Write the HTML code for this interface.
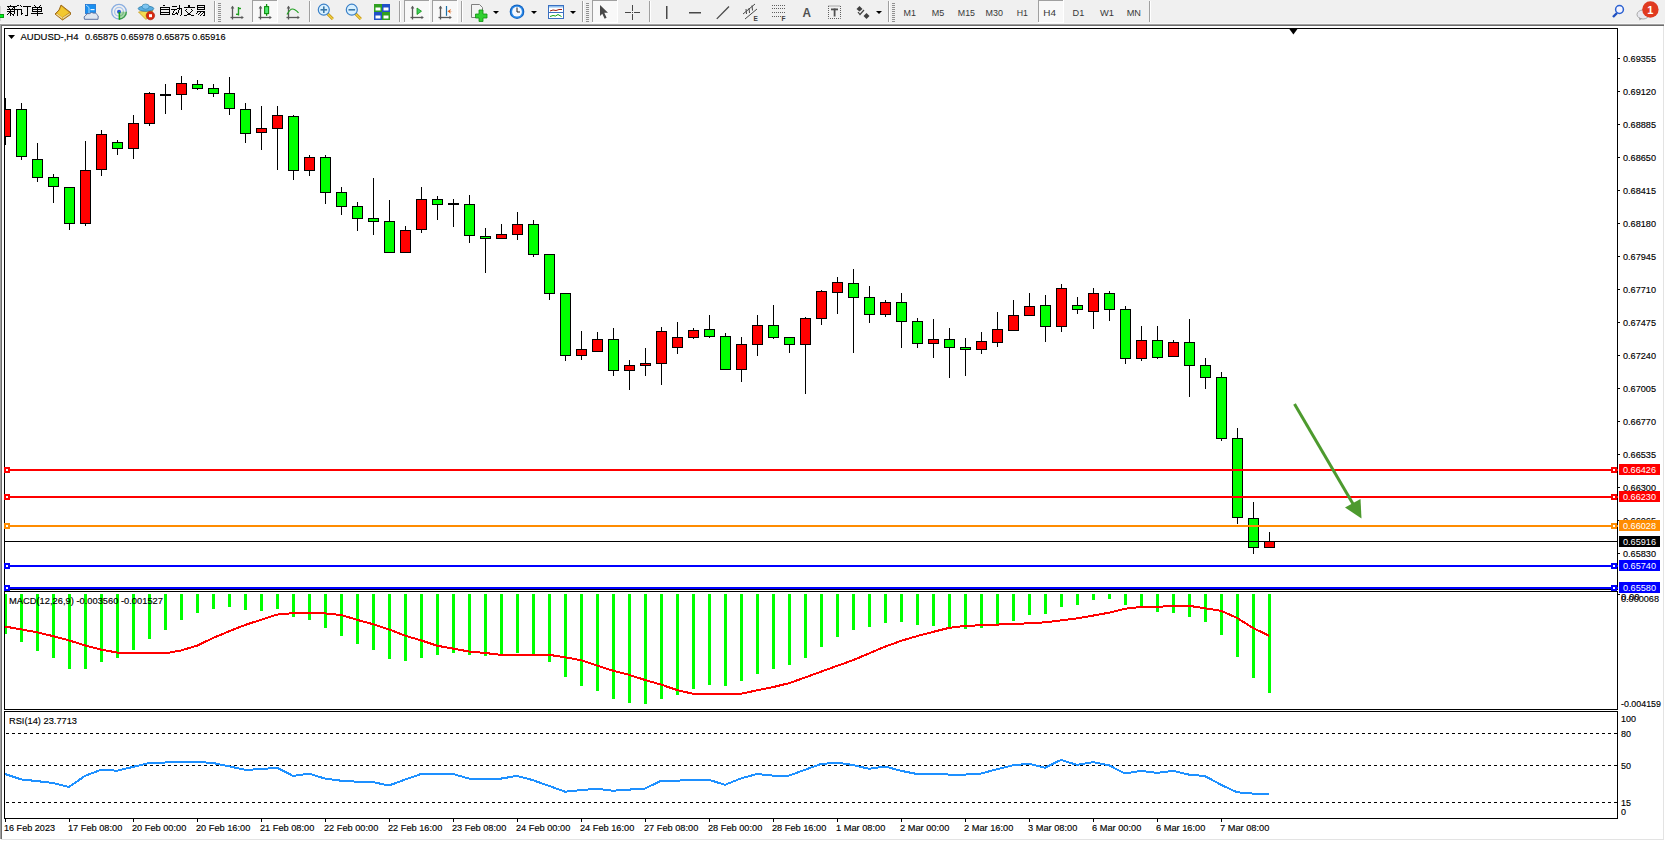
<!DOCTYPE html>
<html><head><meta charset="utf-8"><style>
html,body{margin:0;padding:0;background:#fff;overflow:hidden;}
svg{display:block;}
text.t{stroke-width:0.3px;}
</style></head><body>
<svg width="1665" height="841" viewBox="0 0 1665 841">
<rect x="0" y="0" width="1665" height="841" fill="#ffffff"/>
<rect x="0" y="0" width="1665" height="23" fill="#f0f0f0"/>
<rect x="0" y="23" width="1665" height="1" fill="#f7f7f7"/>
<rect x="0" y="24" width="1664" height="1" fill="#a0a0a0"/>
<rect x="0" y="25" width="1664" height="1" fill="#6d6d6d"/>
<rect x="0" y="24" width="1" height="815" fill="#a0a0a0"/>
<rect x="1" y="25" width="1" height="814" fill="#6d6d6d"/>
<rect x="1663" y="26" width="1" height="814" fill="#e3e3e3"/>
<rect x="1" y="839" width="1663" height="1" fill="#e3e3e3"/>
<rect x="4" y="28" width="1614" height="1" fill="#000"/>
<rect x="4" y="28" width="1" height="562" fill="#000"/>
<rect x="1617" y="28" width="1" height="562" fill="#000"/>
<rect x="4" y="589" width="1614" height="1" fill="#000"/>
<rect x="4" y="591" width="1614" height="1" fill="#000"/>
<rect x="4" y="591" width="1" height="119" fill="#000"/>
<rect x="1617" y="591" width="1" height="119" fill="#000"/>
<rect x="4" y="709" width="1614" height="1" fill="#000"/>
<rect x="4" y="711" width="1614" height="1" fill="#000"/>
<rect x="4" y="711" width="1" height="108" fill="#000"/>
<rect x="1617" y="711" width="1" height="108" fill="#000"/>
<rect x="4" y="818" width="1614" height="1" fill="#000"/>
<polygon points="1288.6,28 1298.2,28 1293.4,34.6" fill="#000"/>
<defs><clipPath id="cm"><rect x="5" y="29" width="1612" height="560"/></clipPath><clipPath id="cmacd"><rect x="5" y="592" width="1612" height="117"/></clipPath><clipPath id="crsi"><rect x="5" y="712" width="1612" height="106"/></clipPath></defs>
<g clip-path="url(#cm)" shape-rendering="crispEdges">
<rect x="5" y="98" width="1" height="47" fill="#000"/>
<rect x="0" y="109" width="11" height="28" fill="#000"/>
<rect x="1" y="110" width="9" height="26" fill="#ff0000"/>
<rect x="21" y="103" width="1" height="57" fill="#000"/>
<rect x="16" y="109" width="11" height="48" fill="#000"/>
<rect x="17" y="110" width="9" height="46" fill="#00ff00"/>
<rect x="37" y="143" width="1" height="39" fill="#000"/>
<rect x="32" y="159" width="11" height="19" fill="#000"/>
<rect x="33" y="160" width="9" height="17" fill="#00ff00"/>
<rect x="53" y="174" width="1" height="29" fill="#000"/>
<rect x="48" y="177" width="11" height="10" fill="#000"/>
<rect x="49" y="178" width="9" height="8" fill="#00ff00"/>
<rect x="69" y="187" width="1" height="43" fill="#000"/>
<rect x="64" y="187" width="11" height="37" fill="#000"/>
<rect x="65" y="188" width="9" height="35" fill="#00ff00"/>
<rect x="85" y="141" width="1" height="85" fill="#000"/>
<rect x="80" y="170" width="11" height="54" fill="#000"/>
<rect x="81" y="171" width="9" height="52" fill="#ff0000"/>
<rect x="101" y="130" width="1" height="46" fill="#000"/>
<rect x="96" y="134" width="11" height="36" fill="#000"/>
<rect x="97" y="135" width="9" height="34" fill="#ff0000"/>
<rect x="117" y="140" width="1" height="15" fill="#000"/>
<rect x="112" y="142" width="11" height="7" fill="#000"/>
<rect x="113" y="143" width="9" height="5" fill="#00ff00"/>
<rect x="133" y="115" width="1" height="44" fill="#000"/>
<rect x="128" y="123" width="11" height="26" fill="#000"/>
<rect x="129" y="124" width="9" height="24" fill="#ff0000"/>
<rect x="149" y="92" width="1" height="34" fill="#000"/>
<rect x="144" y="93" width="11" height="31" fill="#000"/>
<rect x="145" y="94" width="9" height="29" fill="#ff0000"/>
<rect x="165" y="84" width="1" height="30" fill="#000"/>
<rect x="160" y="94" width="11" height="2" fill="#000"/>
<rect x="181" y="76" width="1" height="34" fill="#000"/>
<rect x="176" y="83" width="11" height="12" fill="#000"/>
<rect x="177" y="84" width="9" height="10" fill="#ff0000"/>
<rect x="197" y="80" width="1" height="10" fill="#000"/>
<rect x="192" y="84" width="11" height="5" fill="#000"/>
<rect x="193" y="85" width="9" height="3" fill="#00ff00"/>
<rect x="213" y="84" width="1" height="13" fill="#000"/>
<rect x="208" y="88" width="11" height="6" fill="#000"/>
<rect x="209" y="89" width="9" height="4" fill="#00ff00"/>
<rect x="229" y="77" width="1" height="38" fill="#000"/>
<rect x="224" y="93" width="11" height="16" fill="#000"/>
<rect x="225" y="94" width="9" height="14" fill="#00ff00"/>
<rect x="245" y="103" width="1" height="40" fill="#000"/>
<rect x="240" y="109" width="11" height="25" fill="#000"/>
<rect x="241" y="110" width="9" height="23" fill="#00ff00"/>
<rect x="261" y="106" width="1" height="44" fill="#000"/>
<rect x="256" y="128" width="11" height="5" fill="#000"/>
<rect x="257" y="129" width="9" height="3" fill="#ff0000"/>
<rect x="277" y="106" width="1" height="64" fill="#000"/>
<rect x="272" y="115" width="11" height="14" fill="#000"/>
<rect x="273" y="116" width="9" height="12" fill="#ff0000"/>
<rect x="293" y="115" width="1" height="65" fill="#000"/>
<rect x="288" y="116" width="11" height="55" fill="#000"/>
<rect x="289" y="117" width="9" height="53" fill="#00ff00"/>
<rect x="309" y="155" width="1" height="21" fill="#000"/>
<rect x="304" y="157" width="11" height="14" fill="#000"/>
<rect x="305" y="158" width="9" height="12" fill="#ff0000"/>
<rect x="325" y="155" width="1" height="49" fill="#000"/>
<rect x="320" y="157" width="11" height="36" fill="#000"/>
<rect x="321" y="158" width="9" height="34" fill="#00ff00"/>
<rect x="341" y="187" width="1" height="28" fill="#000"/>
<rect x="336" y="192" width="11" height="15" fill="#000"/>
<rect x="337" y="193" width="9" height="13" fill="#00ff00"/>
<rect x="357" y="202" width="1" height="29" fill="#000"/>
<rect x="352" y="206" width="11" height="13" fill="#000"/>
<rect x="353" y="207" width="9" height="11" fill="#00ff00"/>
<rect x="373" y="178" width="1" height="57" fill="#000"/>
<rect x="368" y="218" width="11" height="4" fill="#000"/>
<rect x="369" y="219" width="9" height="2" fill="#00ff00"/>
<rect x="389" y="200" width="1" height="53" fill="#000"/>
<rect x="384" y="221" width="11" height="32" fill="#000"/>
<rect x="385" y="222" width="9" height="30" fill="#00ff00"/>
<rect x="405" y="226" width="1" height="27" fill="#000"/>
<rect x="400" y="230" width="11" height="23" fill="#000"/>
<rect x="401" y="231" width="9" height="21" fill="#ff0000"/>
<rect x="421" y="187" width="1" height="46" fill="#000"/>
<rect x="416" y="199" width="11" height="31" fill="#000"/>
<rect x="417" y="200" width="9" height="29" fill="#ff0000"/>
<rect x="437" y="196" width="1" height="24" fill="#000"/>
<rect x="432" y="199" width="11" height="6" fill="#000"/>
<rect x="433" y="200" width="9" height="4" fill="#00ff00"/>
<rect x="453" y="199" width="1" height="28" fill="#000"/>
<rect x="448" y="203" width="11" height="2" fill="#000"/>
<rect x="469" y="195" width="1" height="48" fill="#000"/>
<rect x="464" y="204" width="11" height="32" fill="#000"/>
<rect x="465" y="205" width="9" height="30" fill="#00ff00"/>
<rect x="485" y="228" width="1" height="45" fill="#000"/>
<rect x="480" y="236" width="11" height="3" fill="#000"/>
<rect x="481" y="237" width="9" height="1" fill="#00ff00"/>
<rect x="501" y="224" width="1" height="15" fill="#000"/>
<rect x="496" y="234" width="11" height="5" fill="#000"/>
<rect x="497" y="235" width="9" height="3" fill="#ff0000"/>
<rect x="517" y="212" width="1" height="28" fill="#000"/>
<rect x="512" y="224" width="11" height="11" fill="#000"/>
<rect x="513" y="225" width="9" height="9" fill="#ff0000"/>
<rect x="533" y="220" width="1" height="37" fill="#000"/>
<rect x="528" y="224" width="11" height="31" fill="#000"/>
<rect x="529" y="225" width="9" height="29" fill="#00ff00"/>
<rect x="549" y="254" width="1" height="46" fill="#000"/>
<rect x="544" y="254" width="11" height="40" fill="#000"/>
<rect x="545" y="255" width="9" height="38" fill="#00ff00"/>
<rect x="565" y="293" width="1" height="68" fill="#000"/>
<rect x="560" y="293" width="11" height="63" fill="#000"/>
<rect x="561" y="294" width="9" height="61" fill="#00ff00"/>
<rect x="581" y="331" width="1" height="29" fill="#000"/>
<rect x="576" y="349" width="11" height="7" fill="#000"/>
<rect x="577" y="350" width="9" height="5" fill="#ff0000"/>
<rect x="597" y="332" width="1" height="20" fill="#000"/>
<rect x="592" y="339" width="11" height="13" fill="#000"/>
<rect x="593" y="340" width="9" height="11" fill="#ff0000"/>
<rect x="613" y="328" width="1" height="48" fill="#000"/>
<rect x="608" y="339" width="11" height="32" fill="#000"/>
<rect x="609" y="340" width="9" height="30" fill="#00ff00"/>
<rect x="629" y="360" width="1" height="30" fill="#000"/>
<rect x="624" y="365" width="11" height="6" fill="#000"/>
<rect x="625" y="366" width="9" height="4" fill="#ff0000"/>
<rect x="645" y="348" width="1" height="28" fill="#000"/>
<rect x="640" y="363" width="11" height="3" fill="#000"/>
<rect x="641" y="364" width="9" height="1" fill="#ff0000"/>
<rect x="661" y="327" width="1" height="58" fill="#000"/>
<rect x="656" y="331" width="11" height="33" fill="#000"/>
<rect x="657" y="332" width="9" height="31" fill="#ff0000"/>
<rect x="677" y="322" width="1" height="32" fill="#000"/>
<rect x="672" y="337" width="11" height="11" fill="#000"/>
<rect x="673" y="338" width="9" height="9" fill="#ff0000"/>
<rect x="693" y="328" width="1" height="11" fill="#000"/>
<rect x="688" y="330" width="11" height="8" fill="#000"/>
<rect x="689" y="331" width="9" height="6" fill="#ff0000"/>
<rect x="709" y="315" width="1" height="23" fill="#000"/>
<rect x="704" y="329" width="11" height="8" fill="#000"/>
<rect x="705" y="330" width="9" height="6" fill="#00ff00"/>
<rect x="725" y="333" width="1" height="37" fill="#000"/>
<rect x="720" y="336" width="11" height="34" fill="#000"/>
<rect x="721" y="337" width="9" height="32" fill="#00ff00"/>
<rect x="741" y="337" width="1" height="45" fill="#000"/>
<rect x="736" y="344" width="11" height="26" fill="#000"/>
<rect x="737" y="345" width="9" height="24" fill="#ff0000"/>
<rect x="757" y="315" width="1" height="41" fill="#000"/>
<rect x="752" y="325" width="11" height="20" fill="#000"/>
<rect x="753" y="326" width="9" height="18" fill="#ff0000"/>
<rect x="773" y="305" width="1" height="34" fill="#000"/>
<rect x="768" y="325" width="11" height="13" fill="#000"/>
<rect x="769" y="326" width="9" height="11" fill="#00ff00"/>
<rect x="789" y="337" width="1" height="16" fill="#000"/>
<rect x="784" y="337" width="11" height="8" fill="#000"/>
<rect x="785" y="338" width="9" height="6" fill="#00ff00"/>
<rect x="805" y="317" width="1" height="77" fill="#000"/>
<rect x="800" y="318" width="11" height="27" fill="#000"/>
<rect x="801" y="319" width="9" height="25" fill="#ff0000"/>
<rect x="821" y="290" width="1" height="35" fill="#000"/>
<rect x="816" y="291" width="11" height="28" fill="#000"/>
<rect x="817" y="292" width="9" height="26" fill="#ff0000"/>
<rect x="837" y="277" width="1" height="37" fill="#000"/>
<rect x="832" y="282" width="11" height="11" fill="#000"/>
<rect x="833" y="283" width="9" height="9" fill="#ff0000"/>
<rect x="853" y="269" width="1" height="84" fill="#000"/>
<rect x="848" y="283" width="11" height="15" fill="#000"/>
<rect x="849" y="284" width="9" height="13" fill="#00ff00"/>
<rect x="869" y="286" width="1" height="37" fill="#000"/>
<rect x="864" y="297" width="11" height="18" fill="#000"/>
<rect x="865" y="298" width="9" height="16" fill="#00ff00"/>
<rect x="885" y="300" width="1" height="17" fill="#000"/>
<rect x="880" y="302" width="11" height="13" fill="#000"/>
<rect x="881" y="303" width="9" height="11" fill="#ff0000"/>
<rect x="901" y="293" width="1" height="55" fill="#000"/>
<rect x="896" y="302" width="11" height="20" fill="#000"/>
<rect x="897" y="303" width="9" height="18" fill="#00ff00"/>
<rect x="917" y="318" width="1" height="30" fill="#000"/>
<rect x="912" y="321" width="11" height="23" fill="#000"/>
<rect x="913" y="322" width="9" height="21" fill="#00ff00"/>
<rect x="933" y="319" width="1" height="39" fill="#000"/>
<rect x="928" y="339" width="11" height="5" fill="#000"/>
<rect x="929" y="340" width="9" height="3" fill="#ff0000"/>
<rect x="949" y="328" width="1" height="50" fill="#000"/>
<rect x="944" y="339" width="11" height="9" fill="#000"/>
<rect x="945" y="340" width="9" height="7" fill="#00ff00"/>
<rect x="965" y="338" width="1" height="38" fill="#000"/>
<rect x="960" y="347" width="11" height="3" fill="#000"/>
<rect x="961" y="348" width="9" height="1" fill="#00ff00"/>
<rect x="981" y="332" width="1" height="22" fill="#000"/>
<rect x="976" y="341" width="11" height="9" fill="#000"/>
<rect x="977" y="342" width="9" height="7" fill="#ff0000"/>
<rect x="997" y="312" width="1" height="35" fill="#000"/>
<rect x="992" y="329" width="11" height="14" fill="#000"/>
<rect x="993" y="330" width="9" height="12" fill="#ff0000"/>
<rect x="1013" y="300" width="1" height="31" fill="#000"/>
<rect x="1008" y="315" width="11" height="16" fill="#000"/>
<rect x="1009" y="316" width="9" height="14" fill="#ff0000"/>
<rect x="1029" y="293" width="1" height="23" fill="#000"/>
<rect x="1024" y="306" width="11" height="10" fill="#000"/>
<rect x="1025" y="307" width="9" height="8" fill="#ff0000"/>
<rect x="1045" y="295" width="1" height="47" fill="#000"/>
<rect x="1040" y="305" width="11" height="22" fill="#000"/>
<rect x="1041" y="306" width="9" height="20" fill="#00ff00"/>
<rect x="1061" y="284" width="1" height="48" fill="#000"/>
<rect x="1056" y="288" width="11" height="39" fill="#000"/>
<rect x="1057" y="289" width="9" height="37" fill="#ff0000"/>
<rect x="1077" y="297" width="1" height="17" fill="#000"/>
<rect x="1072" y="305" width="11" height="5" fill="#000"/>
<rect x="1073" y="306" width="9" height="3" fill="#00ff00"/>
<rect x="1093" y="288" width="1" height="41" fill="#000"/>
<rect x="1088" y="293" width="11" height="19" fill="#000"/>
<rect x="1089" y="294" width="9" height="17" fill="#ff0000"/>
<rect x="1109" y="291" width="1" height="30" fill="#000"/>
<rect x="1104" y="293" width="11" height="17" fill="#000"/>
<rect x="1105" y="294" width="9" height="15" fill="#00ff00"/>
<rect x="1125" y="306" width="1" height="58" fill="#000"/>
<rect x="1120" y="309" width="11" height="50" fill="#000"/>
<rect x="1121" y="310" width="9" height="48" fill="#00ff00"/>
<rect x="1141" y="326" width="1" height="35" fill="#000"/>
<rect x="1136" y="340" width="11" height="19" fill="#000"/>
<rect x="1137" y="341" width="9" height="17" fill="#ff0000"/>
<rect x="1157" y="326" width="1" height="33" fill="#000"/>
<rect x="1152" y="340" width="11" height="18" fill="#000"/>
<rect x="1153" y="341" width="9" height="16" fill="#00ff00"/>
<rect x="1173" y="340" width="1" height="17" fill="#000"/>
<rect x="1168" y="342" width="11" height="15" fill="#000"/>
<rect x="1169" y="343" width="9" height="13" fill="#ff0000"/>
<rect x="1189" y="319" width="1" height="78" fill="#000"/>
<rect x="1184" y="342" width="11" height="24" fill="#000"/>
<rect x="1185" y="343" width="9" height="22" fill="#00ff00"/>
<rect x="1205" y="358" width="1" height="31" fill="#000"/>
<rect x="1200" y="365" width="11" height="13" fill="#000"/>
<rect x="1201" y="366" width="9" height="11" fill="#00ff00"/>
<rect x="1221" y="372" width="1" height="69" fill="#000"/>
<rect x="1216" y="377" width="11" height="62" fill="#000"/>
<rect x="1217" y="378" width="9" height="60" fill="#00ff00"/>
<rect x="1237" y="428" width="1" height="96" fill="#000"/>
<rect x="1232" y="438" width="11" height="80" fill="#000"/>
<rect x="1233" y="439" width="9" height="78" fill="#00ff00"/>
<rect x="1253" y="502" width="1" height="52" fill="#000"/>
<rect x="1248" y="518" width="11" height="30" fill="#000"/>
<rect x="1249" y="519" width="9" height="28" fill="#00ff00"/>
<rect x="1269" y="532" width="1" height="16" fill="#000"/>
<rect x="1264" y="541" width="11" height="7" fill="#000"/>
<rect x="1265" y="542" width="9" height="5" fill="#ff0000"/>
</g>
<g shape-rendering="crispEdges">
<rect x="5" y="469" width="1613" height="2" fill="#ff0000"/>
<rect x="4" y="467" width="6" height="6" fill="#ff0000"/>
<rect x="6" y="469" width="2" height="2" fill="#fff"/>
<rect x="1611" y="467" width="6" height="6" fill="#ff0000"/>
<rect x="1613" y="469" width="2" height="2" fill="#fff"/>
<rect x="5" y="496" width="1613" height="2" fill="#ff0000"/>
<rect x="4" y="494" width="6" height="6" fill="#ff0000"/>
<rect x="6" y="496" width="2" height="2" fill="#fff"/>
<rect x="1611" y="494" width="6" height="6" fill="#ff0000"/>
<rect x="1613" y="496" width="2" height="2" fill="#fff"/>
<rect x="5" y="525" width="1613" height="2" fill="#ff8c00"/>
<rect x="4" y="523" width="6" height="6" fill="#ff8c00"/>
<rect x="6" y="525" width="2" height="2" fill="#fff"/>
<rect x="1611" y="523" width="6" height="6" fill="#ff8c00"/>
<rect x="1613" y="525" width="2" height="2" fill="#fff"/>
<rect x="5" y="541" width="1613" height="1" fill="#000"/>
<rect x="5" y="565" width="1613" height="2" fill="#0000ff"/>
<rect x="4" y="563" width="6" height="6" fill="#0000ff"/>
<rect x="6" y="565" width="2" height="2" fill="#fff"/>
<rect x="1611" y="563" width="6" height="6" fill="#0000ff"/>
<rect x="1613" y="565" width="2" height="2" fill="#fff"/>
<rect x="5" y="587" width="1613" height="2" fill="#0000ff"/>
<rect x="4" y="585" width="6" height="6" fill="#0000ff"/>
<rect x="6" y="587" width="2" height="2" fill="#fff"/>
<rect x="1611" y="585" width="6" height="6" fill="#0000ff"/>
<rect x="1613" y="587" width="2" height="2" fill="#fff"/>
</g>
<line x1="1294.5" y1="404" x2="1356" y2="509" stroke="#4d9a2e" stroke-width="3"/>
<polygon points="1361.5,518.5 1345,507.5 1360.5,499" fill="#4d9a2e"/>
<rect x="1618" y="58" width="2" height="1" fill="#000" shape-rendering="crispEdges"/>
<text x="1623" y="62" font-size="9.8" textLength="33" lengthAdjust="spacingAndGlyphs" font-family="Liberation Sans, sans-serif" fill="#000" stroke="#000" stroke-width="0.15">0.69355</text>
<rect x="1618" y="91" width="2" height="1" fill="#000" shape-rendering="crispEdges"/>
<text x="1623" y="95" font-size="9.8" textLength="33" lengthAdjust="spacingAndGlyphs" font-family="Liberation Sans, sans-serif" fill="#000" stroke="#000" stroke-width="0.15">0.69120</text>
<rect x="1618" y="124" width="2" height="1" fill="#000" shape-rendering="crispEdges"/>
<text x="1623" y="128" font-size="9.8" textLength="33" lengthAdjust="spacingAndGlyphs" font-family="Liberation Sans, sans-serif" fill="#000" stroke="#000" stroke-width="0.15">0.68885</text>
<rect x="1618" y="157" width="2" height="1" fill="#000" shape-rendering="crispEdges"/>
<text x="1623" y="161" font-size="9.8" textLength="33" lengthAdjust="spacingAndGlyphs" font-family="Liberation Sans, sans-serif" fill="#000" stroke="#000" stroke-width="0.15">0.68650</text>
<rect x="1618" y="190" width="2" height="1" fill="#000" shape-rendering="crispEdges"/>
<text x="1623" y="194" font-size="9.8" textLength="33" lengthAdjust="spacingAndGlyphs" font-family="Liberation Sans, sans-serif" fill="#000" stroke="#000" stroke-width="0.15">0.68415</text>
<rect x="1618" y="223" width="2" height="1" fill="#000" shape-rendering="crispEdges"/>
<text x="1623" y="227" font-size="9.8" textLength="33" lengthAdjust="spacingAndGlyphs" font-family="Liberation Sans, sans-serif" fill="#000" stroke="#000" stroke-width="0.15">0.68180</text>
<rect x="1618" y="256" width="2" height="1" fill="#000" shape-rendering="crispEdges"/>
<text x="1623" y="260" font-size="9.8" textLength="33" lengthAdjust="spacingAndGlyphs" font-family="Liberation Sans, sans-serif" fill="#000" stroke="#000" stroke-width="0.15">0.67945</text>
<rect x="1618" y="289" width="2" height="1" fill="#000" shape-rendering="crispEdges"/>
<text x="1623" y="293" font-size="9.8" textLength="33" lengthAdjust="spacingAndGlyphs" font-family="Liberation Sans, sans-serif" fill="#000" stroke="#000" stroke-width="0.15">0.67710</text>
<rect x="1618" y="322" width="2" height="1" fill="#000" shape-rendering="crispEdges"/>
<text x="1623" y="326" font-size="9.8" textLength="33" lengthAdjust="spacingAndGlyphs" font-family="Liberation Sans, sans-serif" fill="#000" stroke="#000" stroke-width="0.15">0.67475</text>
<rect x="1618" y="355" width="2" height="1" fill="#000" shape-rendering="crispEdges"/>
<text x="1623" y="359" font-size="9.8" textLength="33" lengthAdjust="spacingAndGlyphs" font-family="Liberation Sans, sans-serif" fill="#000" stroke="#000" stroke-width="0.15">0.67240</text>
<rect x="1618" y="388" width="2" height="1" fill="#000" shape-rendering="crispEdges"/>
<text x="1623" y="392" font-size="9.8" textLength="33" lengthAdjust="spacingAndGlyphs" font-family="Liberation Sans, sans-serif" fill="#000" stroke="#000" stroke-width="0.15">0.67005</text>
<rect x="1618" y="421" width="2" height="1" fill="#000" shape-rendering="crispEdges"/>
<text x="1623" y="425" font-size="9.8" textLength="33" lengthAdjust="spacingAndGlyphs" font-family="Liberation Sans, sans-serif" fill="#000" stroke="#000" stroke-width="0.15">0.66770</text>
<rect x="1618" y="454" width="2" height="1" fill="#000" shape-rendering="crispEdges"/>
<text x="1623" y="458" font-size="9.8" textLength="33" lengthAdjust="spacingAndGlyphs" font-family="Liberation Sans, sans-serif" fill="#000" stroke="#000" stroke-width="0.15">0.66535</text>
<rect x="1618" y="487" width="2" height="1" fill="#000" shape-rendering="crispEdges"/>
<text x="1623" y="491" font-size="9.8" textLength="33" lengthAdjust="spacingAndGlyphs" font-family="Liberation Sans, sans-serif" fill="#000" stroke="#000" stroke-width="0.15">0.66300</text>
<rect x="1618" y="520" width="2" height="1" fill="#000" shape-rendering="crispEdges"/>
<text x="1623" y="524" font-size="9.8" textLength="33" lengthAdjust="spacingAndGlyphs" font-family="Liberation Sans, sans-serif" fill="#000" stroke="#000" stroke-width="0.15">0.66065</text>
<rect x="1618" y="553" width="2" height="1" fill="#000" shape-rendering="crispEdges"/>
<text x="1623" y="557" font-size="9.8" textLength="33" lengthAdjust="spacingAndGlyphs" font-family="Liberation Sans, sans-serif" fill="#000" stroke="#000" stroke-width="0.15">0.65830</text>
<rect x="1619" y="464" width="41" height="11" fill="#ff0000" shape-rendering="crispEdges"/>
<text x="1623" y="473" font-size="9.8" textLength="33" lengthAdjust="spacingAndGlyphs" font-family="Liberation Sans, sans-serif" fill="#fff">0.66426</text>
<rect x="1619" y="491" width="41" height="11" fill="#ff0000" shape-rendering="crispEdges"/>
<text x="1623" y="500" font-size="9.8" textLength="33" lengthAdjust="spacingAndGlyphs" font-family="Liberation Sans, sans-serif" fill="#fff">0.66230</text>
<rect x="1619" y="520" width="41" height="11" fill="#ff8c00" shape-rendering="crispEdges"/>
<text x="1623" y="529" font-size="9.8" textLength="33" lengthAdjust="spacingAndGlyphs" font-family="Liberation Sans, sans-serif" fill="#fff">0.66028</text>
<rect x="1619" y="536" width="41" height="11" fill="#000000" shape-rendering="crispEdges"/>
<text x="1623" y="545" font-size="9.8" textLength="33" lengthAdjust="spacingAndGlyphs" font-family="Liberation Sans, sans-serif" fill="#fff">0.65916</text>
<rect x="1619" y="560" width="41" height="11" fill="#0000ff" shape-rendering="crispEdges"/>
<text x="1623" y="569" font-size="9.8" textLength="33" lengthAdjust="spacingAndGlyphs" font-family="Liberation Sans, sans-serif" fill="#fff">0.65740</text>
<rect x="1619" y="582" width="41" height="11" fill="#0000ff" shape-rendering="crispEdges"/>
<text x="1623" y="591" font-size="9.8" textLength="33" lengthAdjust="spacingAndGlyphs" font-family="Liberation Sans, sans-serif" fill="#fff">0.65580</text>
<g clip-path="url(#cmacd)" shape-rendering="crispEdges">
<rect x="4" y="594" width="3" height="40" fill="#00ff00"/>
<rect x="20" y="594" width="3" height="48" fill="#00ff00"/>
<rect x="36" y="594" width="3" height="57" fill="#00ff00"/>
<rect x="52" y="594" width="3" height="64" fill="#00ff00"/>
<rect x="68" y="594" width="3" height="75" fill="#00ff00"/>
<rect x="84" y="594" width="3" height="75" fill="#00ff00"/>
<rect x="100" y="594" width="3" height="68" fill="#00ff00"/>
<rect x="116" y="594" width="3" height="64" fill="#00ff00"/>
<rect x="132" y="594" width="3" height="56" fill="#00ff00"/>
<rect x="148" y="594" width="3" height="45" fill="#00ff00"/>
<rect x="164" y="594" width="3" height="36" fill="#00ff00"/>
<rect x="180" y="594" width="3" height="26" fill="#00ff00"/>
<rect x="196" y="594" width="3" height="19" fill="#00ff00"/>
<rect x="212" y="594" width="3" height="15" fill="#00ff00"/>
<rect x="228" y="594" width="3" height="13" fill="#00ff00"/>
<rect x="244" y="594" width="3" height="16" fill="#00ff00"/>
<rect x="260" y="594" width="3" height="17" fill="#00ff00"/>
<rect x="276" y="594" width="3" height="15" fill="#00ff00"/>
<rect x="292" y="594" width="3" height="23" fill="#00ff00"/>
<rect x="308" y="594" width="3" height="26" fill="#00ff00"/>
<rect x="324" y="594" width="3" height="34" fill="#00ff00"/>
<rect x="340" y="594" width="3" height="42" fill="#00ff00"/>
<rect x="356" y="594" width="3" height="50" fill="#00ff00"/>
<rect x="372" y="594" width="3" height="56" fill="#00ff00"/>
<rect x="388" y="594" width="3" height="65" fill="#00ff00"/>
<rect x="404" y="594" width="3" height="67" fill="#00ff00"/>
<rect x="420" y="594" width="3" height="64" fill="#00ff00"/>
<rect x="436" y="594" width="3" height="61" fill="#00ff00"/>
<rect x="452" y="594" width="3" height="59" fill="#00ff00"/>
<rect x="468" y="594" width="3" height="61" fill="#00ff00"/>
<rect x="484" y="594" width="3" height="62" fill="#00ff00"/>
<rect x="500" y="594" width="3" height="60" fill="#00ff00"/>
<rect x="516" y="594" width="3" height="59" fill="#00ff00"/>
<rect x="532" y="594" width="3" height="60" fill="#00ff00"/>
<rect x="548" y="594" width="3" height="68" fill="#00ff00"/>
<rect x="564" y="594" width="3" height="83" fill="#00ff00"/>
<rect x="580" y="594" width="3" height="92" fill="#00ff00"/>
<rect x="596" y="594" width="3" height="97" fill="#00ff00"/>
<rect x="612" y="594" width="3" height="105" fill="#00ff00"/>
<rect x="628" y="594" width="3" height="109" fill="#00ff00"/>
<rect x="644" y="594" width="3" height="110" fill="#00ff00"/>
<rect x="660" y="594" width="3" height="105" fill="#00ff00"/>
<rect x="676" y="594" width="3" height="101" fill="#00ff00"/>
<rect x="692" y="594" width="3" height="95" fill="#00ff00"/>
<rect x="708" y="594" width="3" height="91" fill="#00ff00"/>
<rect x="724" y="594" width="3" height="92" fill="#00ff00"/>
<rect x="740" y="594" width="3" height="87" fill="#00ff00"/>
<rect x="756" y="594" width="3" height="80" fill="#00ff00"/>
<rect x="772" y="594" width="3" height="75" fill="#00ff00"/>
<rect x="788" y="594" width="3" height="71" fill="#00ff00"/>
<rect x="804" y="594" width="3" height="64" fill="#00ff00"/>
<rect x="820" y="594" width="3" height="53" fill="#00ff00"/>
<rect x="836" y="594" width="3" height="43" fill="#00ff00"/>
<rect x="852" y="594" width="3" height="36" fill="#00ff00"/>
<rect x="868" y="594" width="3" height="33" fill="#00ff00"/>
<rect x="884" y="594" width="3" height="29" fill="#00ff00"/>
<rect x="900" y="594" width="3" height="28" fill="#00ff00"/>
<rect x="916" y="594" width="3" height="31" fill="#00ff00"/>
<rect x="932" y="594" width="3" height="32" fill="#00ff00"/>
<rect x="948" y="594" width="3" height="33" fill="#00ff00"/>
<rect x="964" y="594" width="3" height="35" fill="#00ff00"/>
<rect x="980" y="594" width="3" height="34" fill="#00ff00"/>
<rect x="996" y="594" width="3" height="30" fill="#00ff00"/>
<rect x="1012" y="594" width="3" height="27" fill="#00ff00"/>
<rect x="1028" y="594" width="3" height="21" fill="#00ff00"/>
<rect x="1044" y="594" width="3" height="20" fill="#00ff00"/>
<rect x="1060" y="594" width="3" height="13" fill="#00ff00"/>
<rect x="1076" y="594" width="3" height="11" fill="#00ff00"/>
<rect x="1092" y="594" width="3" height="6" fill="#00ff00"/>
<rect x="1108" y="594" width="3" height="5" fill="#00ff00"/>
<rect x="1124" y="594" width="3" height="11" fill="#00ff00"/>
<rect x="1140" y="594" width="3" height="13" fill="#00ff00"/>
<rect x="1156" y="594" width="3" height="18" fill="#00ff00"/>
<rect x="1172" y="594" width="3" height="19" fill="#00ff00"/>
<rect x="1188" y="594" width="3" height="23" fill="#00ff00"/>
<rect x="1204" y="594" width="3" height="28" fill="#00ff00"/>
<rect x="1220" y="594" width="3" height="41" fill="#00ff00"/>
<rect x="1236" y="594" width="3" height="63" fill="#00ff00"/>
<rect x="1252" y="594" width="3" height="84" fill="#00ff00"/>
<rect x="1268" y="594" width="3" height="99" fill="#00ff00"/>
</g>
<g clip-path="url(#cmacd)"><polyline points="4,626.5 5,626.5 21,629.4 37,632.3 53,636.1 69,640.4 85,645.4 101,649.6 117,652.5 125,653.4 165,653.4 181,650.5 197,645.7 213,638 229,631.3 245,625 261,619.8 277,614.6 293,613.1 325,613.4 341,615 357,619.8 373,624.2 389,629.4 405,635.6 421,640.4 437,645.7 453,648.6 469,651.5 485,653 501,654.8 549,654.8 565,657.3 581,660.2 597,665.5 613,670.7 629,674.8 645,680 661,684.6 677,690 693,693.8 741,693.8 757,690.3 773,687.1 789,683.2 805,677.5 821,671.7 837,665.9 853,660.2 869,653.4 885,646.7 901,640.9 917,636.1 933,631.9 949,627.9 965,625.9 997,624.6 1029,623.3 1045,622.3 1061,620.4 1077,618.4 1093,615.6 1109,612.7 1125,608.8 1141,606.9 1157,606.9 1173,605.8 1189,605.8 1205,608.3 1221,610.8 1237,617.9 1253,627.9 1269,635.8" fill="none" stroke="#ff0000" stroke-width="2" stroke-linejoin="round" shape-rendering="crispEdges"/></g>
<text x="9" y="604" font-size="9.8" textLength="154" lengthAdjust="spacingAndGlyphs" font-family="Liberation Sans, sans-serif" fill="#000" stroke="#000" stroke-width="0.15">MACD(12,26,9) -0.003560 -0.001527</text>
<rect x="1618" y="594" width="2" height="1" fill="#000"/>
<text x="1621" y="601.5" font-size="9.8" textLength="38" lengthAdjust="spacingAndGlyphs" font-family="Liberation Sans, sans-serif" fill="#000" stroke="#000" stroke-width="0.15">0.000068</text>
<text x="1621" y="599.5" font-size="9.8" textLength="18.5" lengthAdjust="spacingAndGlyphs" font-family="Liberation Sans, sans-serif" fill="#000" stroke="#000" stroke-width="0.15">0.00</text>
<text x="1621" y="707" font-size="9.8" textLength="40" lengthAdjust="spacingAndGlyphs" font-family="Liberation Sans, sans-serif" fill="#000" stroke="#000" stroke-width="0.15">-0.004159</text>
<g shape-rendering="crispEdges">
<line x1="6" y1="733.5" x2="1617" y2="733.5" stroke="#000" stroke-width="1" stroke-dasharray="3,3"/>
<line x1="6" y1="765.5" x2="1617" y2="765.5" stroke="#000" stroke-width="1" stroke-dasharray="3,3"/>
<line x1="6" y1="802.5" x2="1617" y2="802.5" stroke="#000" stroke-width="1" stroke-dasharray="3,3"/>
</g>
<g clip-path="url(#crsi)"><polyline points="4,774 5,774 21,779.4 37,781.1 53,783 69,786.9 85,775.9 101,769.8 117,770.7 133,766.9 149,763 165,762.5 181,761.9 197,761.9 213,763 229,766.3 245,769.8 261,769.2 277,767.7 293,775.9 309,773.6 325,778.6 341,780.7 357,781.7 373,782.1 389,785.5 405,779.6 421,774 437,774 453,774 469,778.6 485,778.6 501,778.6 517,775.9 533,780.2 549,785.9 565,791.7 581,790.1 597,788.8 613,790.7 629,789.6 645,788.6 661,780.7 677,780.7 693,779.8 709,779.8 725,784.8 741,778.4 757,774 773,775.6 789,775.6 805,769.8 821,764 837,762.7 853,765 869,768.8 885,766.5 901,770.8 917,774 933,773.5 949,774.6 965,774.6 981,773.5 997,769.2 1013,765.3 1029,763.8 1045,767.7 1061,759.9 1077,764.9 1093,762.1 1109,765.3 1125,773.5 1141,770.9 1157,772.9 1173,770.9 1189,774.6 1205,776.1 1221,784.8 1237,792.3 1253,793.6 1269,793.6" fill="none" stroke="#1e90ff" stroke-width="2" stroke-linejoin="round" shape-rendering="crispEdges"/></g>
<text x="9" y="724" font-size="9.8" textLength="68" lengthAdjust="spacingAndGlyphs" font-family="Liberation Sans, sans-serif" fill="#000" stroke="#000" stroke-width="0.15">RSI(14) 23.7713</text>
<text x="1621" y="722" font-size="9.8" textLength="15" lengthAdjust="spacingAndGlyphs" font-family="Liberation Sans, sans-serif" fill="#000" stroke="#000" stroke-width="0.15">100</text>
<text x="1621" y="737" font-size="9.8" textLength="10" lengthAdjust="spacingAndGlyphs" font-family="Liberation Sans, sans-serif" fill="#000" stroke="#000" stroke-width="0.15">80</text>
<text x="1621" y="769" font-size="9.8" textLength="10" lengthAdjust="spacingAndGlyphs" font-family="Liberation Sans, sans-serif" fill="#000" stroke="#000" stroke-width="0.15">50</text>
<text x="1621" y="806" font-size="9.8" textLength="10" lengthAdjust="spacingAndGlyphs" font-family="Liberation Sans, sans-serif" fill="#000" stroke="#000" stroke-width="0.15">15</text>
<text x="1621" y="815" font-size="9.8" textLength="5" lengthAdjust="spacingAndGlyphs" font-family="Liberation Sans, sans-serif" fill="#000" stroke="#000" stroke-width="0.15">0</text>
<rect x="5" y="819" width="1" height="3" fill="#000" shape-rendering="crispEdges"/>
<text x="4" y="831" font-size="9.8" textLength="51" lengthAdjust="spacingAndGlyphs" font-family="Liberation Sans, sans-serif" fill="#000" stroke="#000" stroke-width="0.15">16 Feb 2023</text>
<rect x="69" y="819" width="1" height="3" fill="#000" shape-rendering="crispEdges"/>
<text x="68" y="831" font-size="9.8" textLength="54.3" lengthAdjust="spacingAndGlyphs" font-family="Liberation Sans, sans-serif" fill="#000" stroke="#000" stroke-width="0.15">17 Feb 08:00</text>
<rect x="133" y="819" width="1" height="3" fill="#000" shape-rendering="crispEdges"/>
<text x="132" y="831" font-size="9.8" textLength="54.3" lengthAdjust="spacingAndGlyphs" font-family="Liberation Sans, sans-serif" fill="#000" stroke="#000" stroke-width="0.15">20 Feb 00:00</text>
<rect x="197" y="819" width="1" height="3" fill="#000" shape-rendering="crispEdges"/>
<text x="196" y="831" font-size="9.8" textLength="54.3" lengthAdjust="spacingAndGlyphs" font-family="Liberation Sans, sans-serif" fill="#000" stroke="#000" stroke-width="0.15">20 Feb 16:00</text>
<rect x="261" y="819" width="1" height="3" fill="#000" shape-rendering="crispEdges"/>
<text x="260" y="831" font-size="9.8" textLength="54.3" lengthAdjust="spacingAndGlyphs" font-family="Liberation Sans, sans-serif" fill="#000" stroke="#000" stroke-width="0.15">21 Feb 08:00</text>
<rect x="325" y="819" width="1" height="3" fill="#000" shape-rendering="crispEdges"/>
<text x="324" y="831" font-size="9.8" textLength="54.3" lengthAdjust="spacingAndGlyphs" font-family="Liberation Sans, sans-serif" fill="#000" stroke="#000" stroke-width="0.15">22 Feb 00:00</text>
<rect x="389" y="819" width="1" height="3" fill="#000" shape-rendering="crispEdges"/>
<text x="388" y="831" font-size="9.8" textLength="54.3" lengthAdjust="spacingAndGlyphs" font-family="Liberation Sans, sans-serif" fill="#000" stroke="#000" stroke-width="0.15">22 Feb 16:00</text>
<rect x="453" y="819" width="1" height="3" fill="#000" shape-rendering="crispEdges"/>
<text x="452" y="831" font-size="9.8" textLength="54.3" lengthAdjust="spacingAndGlyphs" font-family="Liberation Sans, sans-serif" fill="#000" stroke="#000" stroke-width="0.15">23 Feb 08:00</text>
<rect x="517" y="819" width="1" height="3" fill="#000" shape-rendering="crispEdges"/>
<text x="516" y="831" font-size="9.8" textLength="54.3" lengthAdjust="spacingAndGlyphs" font-family="Liberation Sans, sans-serif" fill="#000" stroke="#000" stroke-width="0.15">24 Feb 00:00</text>
<rect x="581" y="819" width="1" height="3" fill="#000" shape-rendering="crispEdges"/>
<text x="580" y="831" font-size="9.8" textLength="54.3" lengthAdjust="spacingAndGlyphs" font-family="Liberation Sans, sans-serif" fill="#000" stroke="#000" stroke-width="0.15">24 Feb 16:00</text>
<rect x="645" y="819" width="1" height="3" fill="#000" shape-rendering="crispEdges"/>
<text x="644" y="831" font-size="9.8" textLength="54.3" lengthAdjust="spacingAndGlyphs" font-family="Liberation Sans, sans-serif" fill="#000" stroke="#000" stroke-width="0.15">27 Feb 08:00</text>
<rect x="709" y="819" width="1" height="3" fill="#000" shape-rendering="crispEdges"/>
<text x="708" y="831" font-size="9.8" textLength="54.3" lengthAdjust="spacingAndGlyphs" font-family="Liberation Sans, sans-serif" fill="#000" stroke="#000" stroke-width="0.15">28 Feb 00:00</text>
<rect x="773" y="819" width="1" height="3" fill="#000" shape-rendering="crispEdges"/>
<text x="772" y="831" font-size="9.8" textLength="54.3" lengthAdjust="spacingAndGlyphs" font-family="Liberation Sans, sans-serif" fill="#000" stroke="#000" stroke-width="0.15">28 Feb 16:00</text>
<rect x="837" y="819" width="1" height="3" fill="#000" shape-rendering="crispEdges"/>
<text x="836" y="831" font-size="9.8" textLength="49.3" lengthAdjust="spacingAndGlyphs" font-family="Liberation Sans, sans-serif" fill="#000" stroke="#000" stroke-width="0.15">1 Mar 08:00</text>
<rect x="901" y="819" width="1" height="3" fill="#000" shape-rendering="crispEdges"/>
<text x="900" y="831" font-size="9.8" textLength="49.3" lengthAdjust="spacingAndGlyphs" font-family="Liberation Sans, sans-serif" fill="#000" stroke="#000" stroke-width="0.15">2 Mar 00:00</text>
<rect x="965" y="819" width="1" height="3" fill="#000" shape-rendering="crispEdges"/>
<text x="964" y="831" font-size="9.8" textLength="49.3" lengthAdjust="spacingAndGlyphs" font-family="Liberation Sans, sans-serif" fill="#000" stroke="#000" stroke-width="0.15">2 Mar 16:00</text>
<rect x="1029" y="819" width="1" height="3" fill="#000" shape-rendering="crispEdges"/>
<text x="1028" y="831" font-size="9.8" textLength="49.3" lengthAdjust="spacingAndGlyphs" font-family="Liberation Sans, sans-serif" fill="#000" stroke="#000" stroke-width="0.15">3 Mar 08:00</text>
<rect x="1093" y="819" width="1" height="3" fill="#000" shape-rendering="crispEdges"/>
<text x="1092" y="831" font-size="9.8" textLength="49.3" lengthAdjust="spacingAndGlyphs" font-family="Liberation Sans, sans-serif" fill="#000" stroke="#000" stroke-width="0.15">6 Mar 00:00</text>
<rect x="1157" y="819" width="1" height="3" fill="#000" shape-rendering="crispEdges"/>
<text x="1156" y="831" font-size="9.8" textLength="49.3" lengthAdjust="spacingAndGlyphs" font-family="Liberation Sans, sans-serif" fill="#000" stroke="#000" stroke-width="0.15">6 Mar 16:00</text>
<rect x="1221" y="819" width="1" height="3" fill="#000" shape-rendering="crispEdges"/>
<text x="1220" y="831" font-size="9.8" textLength="49.3" lengthAdjust="spacingAndGlyphs" font-family="Liberation Sans, sans-serif" fill="#000" stroke="#000" stroke-width="0.15">7 Mar 08:00</text>
<polygon points="8,35 15,35 11.5,39" fill="#000"/>
<text x="20.5" y="40" font-size="9.8" textLength="58" lengthAdjust="spacingAndGlyphs" font-family="Liberation Sans, sans-serif" fill="#000" stroke="#000" stroke-width="0.15">AUDUSD-,H4</text>
<text x="85" y="40" font-size="9.8" textLength="140.5" lengthAdjust="spacingAndGlyphs" font-family="Liberation Sans, sans-serif" fill="#000" stroke="#000" stroke-width="0.15">0.65875 0.65978 0.65875 0.65916</text>
<g shape-rendering="crispEdges">
<rect x="252" y="0" width="25" height="22" fill="#f8f8f8"/>
<rect x="252" y="0" width="25" height="1" fill="#a0a0a0"/>
<rect x="252" y="0" width="1" height="22" fill="#a0a0a0"/>
<rect x="252" y="22" width="26" height="1" fill="#ffffff"/>
<rect x="277" y="0" width="1" height="23" fill="#ffffff"/>
<rect x="404" y="0" width="25" height="22" fill="#f8f8f8"/>
<rect x="404" y="0" width="25" height="1" fill="#a0a0a0"/>
<rect x="404" y="0" width="1" height="22" fill="#a0a0a0"/>
<rect x="404" y="22" width="26" height="1" fill="#ffffff"/>
<rect x="429" y="0" width="1" height="23" fill="#ffffff"/>
<rect x="432" y="0" width="25" height="22" fill="#f8f8f8"/>
<rect x="432" y="0" width="25" height="1" fill="#a0a0a0"/>
<rect x="432" y="0" width="1" height="22" fill="#a0a0a0"/>
<rect x="432" y="22" width="26" height="1" fill="#ffffff"/>
<rect x="457" y="0" width="1" height="23" fill="#ffffff"/>
<rect x="592" y="0" width="25" height="22" fill="#f8f8f8"/>
<rect x="592" y="0" width="25" height="1" fill="#a0a0a0"/>
<rect x="592" y="0" width="1" height="22" fill="#a0a0a0"/>
<rect x="592" y="22" width="26" height="1" fill="#ffffff"/>
<rect x="617" y="0" width="1" height="23" fill="#ffffff"/>
<rect x="1038" y="0" width="25" height="22" fill="#f8f8f8"/>
<rect x="1038" y="0" width="25" height="1" fill="#a0a0a0"/>
<rect x="1038" y="0" width="1" height="22" fill="#a0a0a0"/>
<rect x="1038" y="22" width="26" height="1" fill="#ffffff"/>
<rect x="1063" y="0" width="1" height="23" fill="#ffffff"/>
<rect x="214" y="1" width="1" height="21" fill="#a0a0a0"/>
<rect x="215" y="1" width="1" height="21" fill="#ffffff"/>
<rect x="218" y="3" width="3" height="1" fill="#909090"/>
<rect x="218" y="5" width="3" height="1" fill="#909090"/>
<rect x="218" y="7" width="3" height="1" fill="#909090"/>
<rect x="218" y="9" width="3" height="1" fill="#909090"/>
<rect x="218" y="11" width="3" height="1" fill="#909090"/>
<rect x="218" y="13" width="3" height="1" fill="#909090"/>
<rect x="218" y="15" width="3" height="1" fill="#909090"/>
<rect x="218" y="17" width="3" height="1" fill="#909090"/>
<rect x="218" y="19" width="3" height="1" fill="#909090"/>
<rect x="218" y="21" width="3" height="1" fill="#909090"/>
<rect x="309" y="1" width="1" height="21" fill="#a0a0a0"/>
<rect x="310" y="1" width="1" height="21" fill="#ffffff"/>
<rect x="399" y="1" width="1" height="21" fill="#a0a0a0"/>
<rect x="400" y="1" width="1" height="21" fill="#ffffff"/>
<rect x="461" y="1" width="1" height="21" fill="#a0a0a0"/>
<rect x="462" y="1" width="1" height="21" fill="#ffffff"/>
<rect x="582" y="1" width="1" height="21" fill="#a0a0a0"/>
<rect x="583" y="1" width="1" height="21" fill="#ffffff"/>
<rect x="586" y="3" width="3" height="1" fill="#909090"/>
<rect x="586" y="5" width="3" height="1" fill="#909090"/>
<rect x="586" y="7" width="3" height="1" fill="#909090"/>
<rect x="586" y="9" width="3" height="1" fill="#909090"/>
<rect x="586" y="11" width="3" height="1" fill="#909090"/>
<rect x="586" y="13" width="3" height="1" fill="#909090"/>
<rect x="586" y="15" width="3" height="1" fill="#909090"/>
<rect x="586" y="17" width="3" height="1" fill="#909090"/>
<rect x="586" y="19" width="3" height="1" fill="#909090"/>
<rect x="586" y="21" width="3" height="1" fill="#909090"/>
<rect x="649" y="1" width="1" height="21" fill="#a0a0a0"/>
<rect x="650" y="1" width="1" height="21" fill="#ffffff"/>
<rect x="888" y="1" width="1" height="21" fill="#a0a0a0"/>
<rect x="889" y="1" width="1" height="21" fill="#ffffff"/>
<rect x="892" y="3" width="3" height="1" fill="#909090"/>
<rect x="892" y="5" width="3" height="1" fill="#909090"/>
<rect x="892" y="7" width="3" height="1" fill="#909090"/>
<rect x="892" y="9" width="3" height="1" fill="#909090"/>
<rect x="892" y="11" width="3" height="1" fill="#909090"/>
<rect x="892" y="13" width="3" height="1" fill="#909090"/>
<rect x="892" y="15" width="3" height="1" fill="#909090"/>
<rect x="892" y="17" width="3" height="1" fill="#909090"/>
<rect x="892" y="19" width="3" height="1" fill="#909090"/>
<rect x="892" y="21" width="3" height="1" fill="#909090"/>
<rect x="1149" y="1" width="1" height="21" fill="#a0a0a0"/>
<rect x="1150" y="1" width="1" height="21" fill="#ffffff"/>
</g>
<rect x="0" y="6" width="1" height="15" fill="#d4d4d4"/>
<rect x="0" y="14" width="4" height="4" fill="#0a9a10"/>
<rect x="0" y="15" width="3" height="2" fill="#00ee20"/>
<g fill="#000" shape-rendering="crispEdges"><rect x="10" y="5" width="1" height="1"/><rect x="7" y="6" width="7" height="1"/><rect x="8" y="7" width="1" height="1"/><rect x="9" y="8" width="1" height="1"/><rect x="13" y="7" width="1" height="1"/><rect x="12" y="8" width="1" height="1"/><rect x="7" y="9" width="7" height="1"/><rect x="7" y="11" width="7" height="1"/><rect x="10" y="9" width="1" height="7"/><rect x="9" y="12" width="1" height="1"/><rect x="8" y="13" width="1" height="1"/><rect x="7" y="14" width="1" height="1"/><rect x="11" y="13" width="1" height="1"/><rect x="12" y="14" width="1" height="1"/><rect x="17" y="5" width="2" height="1"/><rect x="15" y="6" width="2" height="1"/><rect x="14" y="6" width="1" height="8"/><rect x="13" y="14" width="1" height="2"/><rect x="15" y="9" width="4" height="1"/><rect x="17" y="9" width="1" height="7"/></g>
<g fill="#000" shape-rendering="crispEdges"><rect x="20" y="5" width="1" height="1"/><rect x="21" y="6" width="1" height="1"/><rect x="19" y="9" width="2" height="1"/><rect x="21" y="9" width="1" height="6"/><rect x="22" y="13" width="1" height="1"/><rect x="23" y="6" width="8" height="1"/><rect x="27" y="6" width="1" height="10"/><rect x="25" y="15" width="2" height="1"/></g>
<g fill="#000" shape-rendering="crispEdges"><rect x="34" y="5" width="1" height="1"/><rect x="35" y="6" width="1" height="1"/><rect x="40" y="5" width="1" height="1"/><rect x="39" y="6" width="1" height="1"/><rect x="32" y="7" width="10" height="1"/><rect x="32" y="7" width="1" height="5"/><rect x="41" y="7" width="1" height="5"/><rect x="33" y="9" width="8" height="1"/><rect x="32" y="11" width="10" height="1"/><rect x="37" y="7" width="1" height="9"/><rect x="31" y="13" width="12" height="1"/></g>
<g fill="#000" shape-rendering="crispEdges"><rect x="163" y="5" width="2" height="1"/><rect x="160" y="7" width="1" height="8"/><rect x="169" y="7" width="1" height="8"/><rect x="160" y="7" width="10" height="1"/><rect x="161" y="9" width="8" height="1"/><rect x="161" y="12" width="8" height="1"/><rect x="161" y="14" width="8" height="1"/></g>
<g fill="#000" shape-rendering="crispEdges"><rect x="172" y="6" width="5" height="1"/><rect x="171" y="9" width="6" height="1"/><rect x="174" y="10" width="1" height="1"/><rect x="173" y="11" width="1" height="2"/><rect x="172" y="13" width="1" height="2"/><rect x="173" y="14" width="2" height="1"/><rect x="175" y="13" width="2" height="1"/><rect x="176" y="12" width="1" height="1"/><rect x="177" y="8" width="5" height="1"/><rect x="181" y="8" width="1" height="7"/><rect x="180" y="15" width="1" height="1"/><rect x="179" y="5" width="1" height="5"/><rect x="178" y="10" width="1" height="3"/><rect x="177" y="13" width="1" height="2"/></g>
<g fill="#000" shape-rendering="crispEdges"><rect x="188" y="5" width="2" height="2"/><rect x="184" y="7" width="11" height="1"/><rect x="186" y="9" width="1" height="1"/><rect x="185" y="10" width="1" height="1"/><rect x="191" y="9" width="1" height="1"/><rect x="192" y="10" width="1" height="1"/><rect x="191" y="11" width="1" height="1"/><rect x="190" y="12" width="1" height="1"/><rect x="189" y="13" width="1" height="1"/><rect x="187" y="14" width="2" height="1"/><rect x="184" y="15" width="3" height="1"/><rect x="186" y="11" width="1" height="1"/><rect x="187" y="12" width="1" height="1"/><rect x="188" y="13" width="1" height="1"/><rect x="189" y="14" width="2" height="1"/><rect x="191" y="15" width="3" height="1"/></g>
<g fill="#000" shape-rendering="crispEdges"><rect x="197" y="5" width="8" height="1"/><rect x="197" y="5" width="1" height="5"/><rect x="204" y="5" width="1" height="5"/><rect x="198" y="7" width="6" height="1"/><rect x="197" y="9" width="8" height="1"/><rect x="197" y="11" width="8" height="1"/><rect x="197" y="12" width="1" height="1"/><rect x="196" y="13" width="1" height="1"/><rect x="204" y="11" width="1" height="5"/><rect x="203" y="15" width="1" height="1"/><rect x="200" y="12" width="1" height="1"/><rect x="199" y="13" width="1" height="1"/><rect x="198" y="14" width="1" height="1"/><rect x="203" y="12" width="1" height="1"/><rect x="202" y="13" width="1" height="1"/><rect x="201" y="14" width="1" height="1"/><rect x="200" y="15" width="1" height="1"/></g>
<polygon points="61,5 70.5,12.5 70.5,14.5 62.5,20 55,14 59,10" fill="#c8901a" stroke="#9a6410" stroke-width="0.9" stroke-linejoin="round"/>
<polygon points="61.3,6.3 69,12.6 62.2,17.2 57,13 60,9.8" fill="#f2c830"/>
<polygon points="57,13.5 62.2,17.5 62.2,19 56,14.3" fill="#f6e0a0"/>
<polygon points="62.6,17.4 69.8,13 69.8,14.3 62.6,19.2" fill="#e8d8a0"/>
<rect x="85.5" y="4.5" width="10" height="9" fill="#1a90f0" stroke="#1a70d0" stroke-width="0.8"/>
<line x1="86" y1="5" x2="89" y2="7.5" stroke="#d0ecff" stroke-width="0.8"/>
<line x1="89" y1="7.5" x2="89" y2="13" stroke="#d0ecff" stroke-width="0.8"/>
<rect x="90.5" y="9" width="4" height="1.2" fill="#e8f6ff"/>
<path d="M84.5,19.3 Q83,16.5 85.8,15.3 Q86.5,12.8 89.5,13.6 Q91.5,11.5 94,13.2 Q95.5,12 96.5,14.2 Q99.2,15 98,19.3 Z" fill="#dfe6f0" stroke="#50689a" stroke-width="0.9"/>
<g fill="none" stroke-width="1.3"><circle cx="119" cy="11.7" r="7.3" stroke="#8aaee0"/><circle cx="119" cy="11.7" r="4.4" stroke="#a8c4ec"/></g>
<path d="M119,11.7 L126.9,11.7 A7.9,7.9 0 0 1 119,19.6 Z" fill="#a8d8a8"/>
<g fill="none" stroke-width="1.3"><path d="M126.3,11.7 A7.3,7.3 0 0 1 119,19" stroke="#3a9a4a"/><path d="M123.4,11.7 A4.4,4.4 0 0 1 119,16.1" stroke="#78b888"/></g>
<circle cx="119" cy="11.7" r="2" fill="#2a5ad0"/>
<rect x="118.6" y="12" width="1.5" height="7.6" fill="#18a018"/>
<polygon points="138.5,12 153,10.5 146,19.5" fill="#f4dc50" stroke="#c89a20" stroke-width="0.8" stroke-linejoin="round"/>
<ellipse cx="146" cy="8.6" rx="7.8" ry="2.6" fill="#5aaee0" stroke="#2a7aa8" stroke-width="0.8"/>
<ellipse cx="145.6" cy="6.6" rx="3.6" ry="2.6" fill="#7cc4f0" stroke="#2a7aa8" stroke-width="0.6"/>
<circle cx="150.4" cy="15.6" r="4.2" fill="#d82a10" stroke="#a01808" stroke-width="0.6"/>
<rect x="149" y="14.2" width="3" height="3" fill="#ffffff"/>
<g stroke="#595959" stroke-width="1.3" fill="none"><line x1="232.5" y1="6.5" x2="232.5" y2="19.5"/><line x1="230.5" y1="17.5" x2="242.0" y2="17.5"/></g>
<polygon points="230.7,8.5 232.5,5.8 234.3,8.5" fill="#595959"/>
<polygon points="241.5,15.7 243.8,17.5 241.5,19.3" fill="#595959"/>
<g stroke="#20a020" stroke-width="1.4" fill="none"><line x1="238.5" y1="7" x2="238.5" y2="15.5"/><line x1="238.5" y1="8.5" x2="241" y2="8.5"/><line x1="236" y1="14.3" x2="238.5" y2="14.3"/></g>
<g stroke="#595959" stroke-width="1.3" fill="none"><line x1="260.5" y1="6.5" x2="260.5" y2="19.5"/><line x1="258.5" y1="17.5" x2="270.0" y2="17.5"/></g>
<polygon points="258.7,8.5 260.5,5.8 262.3,8.5" fill="#595959"/>
<polygon points="269.5,15.7 271.8,17.5 269.5,19.3" fill="#595959"/>
<line x1="266.6" y1="4" x2="266.6" y2="15.8" stroke="#109010" stroke-width="1.3"/>
<rect x="264.6" y="6.6" width="4" height="7" fill="#50e870" stroke="#109010" stroke-width="1.1"/>
<g stroke="#595959" stroke-width="1.3" fill="none"><line x1="288.5" y1="6.5" x2="288.5" y2="19.5"/><line x1="286.5" y1="17.5" x2="298.0" y2="17.5"/></g>
<polygon points="286.7,8.5 288.5,5.8 290.3,8.5" fill="#595959"/>
<polygon points="297.5,15.7 299.8,17.5 297.5,19.3" fill="#595959"/>
<path d="M287,14.5 Q290,9 292.5,9 Q295,9 298.5,12.8" stroke="#20a020" stroke-width="1.2" fill="none"/>
<line x1="327.3" y1="13.5" x2="332.8" y2="19" stroke="#c09010" stroke-width="3"/>
<line x1="327.3" y1="13.5" x2="332.8" y2="19" stroke="#f0d040" stroke-width="1.5"/>
<circle cx="323.8" cy="9.7" r="5.5" fill="#d8f0ff" stroke="#3a80c8" stroke-width="1.2"/>
<rect x="320.5" y="9" width="6.6" height="1.6" fill="#3a78a8"/>
<rect x="323.0" y="6.4" width="1.6" height="6.6" fill="#3a78a8"/>
<line x1="355.3" y1="13.5" x2="360.8" y2="19" stroke="#c09010" stroke-width="3"/>
<line x1="355.3" y1="13.5" x2="360.8" y2="19" stroke="#f0d040" stroke-width="1.5"/>
<circle cx="351.8" cy="9.7" r="5.5" fill="#d8f0ff" stroke="#3a80c8" stroke-width="1.2"/>
<rect x="348.5" y="9" width="6.6" height="1.6" fill="#3a78a8"/>
<rect x="374" y="4" width="8" height="8" fill="#30a020"/>
<rect x="375.5" y="7.5" width="5" height="3" fill="#ffffff"/>
<rect x="382" y="4" width="8" height="8" fill="#2050c8"/>
<rect x="383.5" y="7.5" width="5" height="3" fill="#ffffff"/>
<rect x="374" y="12" width="8" height="8" fill="#2050c8"/>
<rect x="375.5" y="15.5" width="5" height="3" fill="#ffffff"/>
<rect x="382" y="12" width="8" height="8" fill="#30a020"/>
<rect x="383.5" y="15.5" width="5" height="3" fill="#ffffff"/>
<g stroke="#595959" stroke-width="1.3" fill="none"><line x1="412.5" y1="6.5" x2="412.5" y2="19.5"/><line x1="410.5" y1="17.5" x2="422.0" y2="17.5"/></g>
<polygon points="410.7,8.5 412.5,5.8 414.3,8.5" fill="#595959"/>
<polygon points="421.5,15.7 423.8,17.5 421.5,19.3" fill="#595959"/>
<polygon points="417,8 421.5,11.2 417,14.5" fill="#40d060" stroke="#109010" stroke-width="0.8"/>
<g stroke="#595959" stroke-width="1.3" fill="none"><line x1="440.5" y1="6.5" x2="440.5" y2="19.5"/><line x1="438.5" y1="17.5" x2="450.0" y2="17.5"/></g>
<polygon points="438.7,8.5 440.5,5.8 442.3,8.5" fill="#595959"/>
<polygon points="449.5,15.7 451.8,17.5 449.5,19.3" fill="#595959"/>
<line x1="446.5" y1="6" x2="446.5" y2="15.8" stroke="#1a70a8" stroke-width="1.2"/>
<polygon points="447.5,11.3 451,9 450,11.3 452.5,11.3 450,11.8 451,13.8" fill="#e06010"/>
<path d="M471.5,4.5 L479.5,4.5 L482.5,7.5 L482.5,17.5 L471.5,17.5 Z" fill="#f4f4f4" stroke="#808080" stroke-width="1"/>
<path d="M479,10 L483,10 L483,14 L487,14 L487,18 L483,18 L483,21.5 L479,21.5 L479,18 L475.5,18 L475.5,14 L479,14 Z" fill="#30d030" stroke="#109010" stroke-width="0.8"/>
<polygon points="493,11 499,11 496,14" fill="#000"/>
<circle cx="517" cy="11.7" r="7.3" fill="#1060c0"/>
<circle cx="517" cy="11.7" r="6.3" fill="#2a8ae8"/>
<circle cx="517" cy="11.7" r="4.9" fill="#f4f8ff"/>
<path d="M517,7.5 L517,12 L520,12" stroke="#202020" stroke-width="1" fill="none"/>
<polygon points="531,11 537,11 534,14" fill="#000"/>
<rect x="548.5" y="5.5" width="15" height="13" fill="#ffffff" stroke="#3a70c0" stroke-width="1"/>
<rect x="549" y="6" width="14" height="1.5" fill="#90c0f0"/>
<line x1="549" y1="12.5" x2="563" y2="12.5" stroke="#3a70c0" stroke-width="1"/>
<polyline points="550,11 553,10 556,10.5 559,9.5 562,9.5" stroke="#a02010" stroke-width="1" fill="none"/>
<polyline points="550,16.5 553,15.5 555.5,16 558,14.5 561.5,16.5" stroke="#10a010" stroke-width="1" fill="none"/>
<polygon points="570,11 576,11 573,14" fill="#000"/>
<polygon points="600,5 608,12.7 604.3,12.7 606.6,17.8 604.6,18.8 602.3,13.7 600,16" fill="#484848"/>
<g fill="#484848" shape-rendering="crispEdges"><rect x="632" y="5" width="1" height="6"/><rect x="632" y="14" width="1" height="6"/><rect x="625" y="12" width="6" height="1"/><rect x="634" y="12" width="6" height="1"/><rect x="632" y="12" width="1" height="1"/></g>
<rect x="666" y="6" width="1.5" height="13" fill="#484848"/>
<rect x="689" y="12" width="12" height="1.5" fill="#484848"/>
<line x1="716.8" y1="18.9" x2="729" y2="6.5" stroke="#484848" stroke-width="1.3"/>
<g stroke="#484848" stroke-width="1" fill="none"><line x1="743" y1="14" x2="755" y2="4"/><line x1="745" y1="19" x2="757" y2="9"/><line x1="746" y1="9" x2="746.5" y2="14"/><line x1="749" y1="8" x2="749.5" y2="13"/><line x1="752" y1="5.5" x2="752.5" y2="10.5"/></g>
<text x="753.5" y="20.5" font-size="6.5" font-weight="bold" font-family="Liberation Sans, sans-serif" fill="#404040">E</text>
<g stroke="#606060" stroke-width="1" stroke-dasharray="1,1" shape-rendering="crispEdges"><line x1="772" y1="5.5" x2="785" y2="5.5"/><line x1="772" y1="8.5" x2="785" y2="8.5"/><line x1="772" y1="12.5" x2="785" y2="12.5"/><line x1="772" y1="16.5" x2="781" y2="16.5"/></g>
<text x="781.5" y="20.8" font-size="6.5" font-weight="bold" font-family="Liberation Sans, sans-serif" fill="#404040">F</text>
<text x="802.5" y="17" font-size="12" font-weight="bold" textLength="8.5" lengthAdjust="spacingAndGlyphs" font-family="Liberation Sans, sans-serif" fill="#505050">A</text>
<rect x="828.5" y="6" width="12" height="12.5" fill="none" stroke="#606060" stroke-width="1" stroke-dasharray="1,1"/>
<rect x="831" y="8.5" width="7" height="1.8" fill="#505050"/><rect x="833.7" y="8.5" width="1.8" height="8" fill="#505050"/>
<polygon points="859.5,6 862.5,9 859.5,11.5 856.5,9" fill="#404040"/>
<polygon points="866.5,13 869.5,16 866.5,19 863.5,16" fill="#404040"/>
<polyline points="858,12 860,14.5 864,10" stroke="#404040" stroke-width="1.2" fill="none"/>
<polygon points="876,11 882,11 879,14" fill="#000"/>
<text x="903.6" y="16" font-size="9.6" textLength="12.4" lengthAdjust="spacingAndGlyphs" font-family="Liberation Sans, sans-serif" fill="#383838">M1</text>
<text x="931.7" y="16" font-size="9.6" textLength="12.5" lengthAdjust="spacingAndGlyphs" font-family="Liberation Sans, sans-serif" fill="#383838">M5</text>
<text x="957.8" y="16" font-size="9.6" textLength="17.2" lengthAdjust="spacingAndGlyphs" font-family="Liberation Sans, sans-serif" fill="#383838">M15</text>
<text x="985.6" y="16" font-size="9.6" textLength="17.4" lengthAdjust="spacingAndGlyphs" font-family="Liberation Sans, sans-serif" fill="#383838">M30</text>
<text x="1016.8" y="16" font-size="9.6" textLength="11.2" lengthAdjust="spacingAndGlyphs" font-family="Liberation Sans, sans-serif" fill="#383838">H1</text>
<text x="1043.3" y="16" font-size="9.6" textLength="12.7" lengthAdjust="spacingAndGlyphs" font-family="Liberation Sans, sans-serif" fill="#383838">H4</text>
<text x="1072.6" y="16" font-size="9.6" textLength="11.7" lengthAdjust="spacingAndGlyphs" font-family="Liberation Sans, sans-serif" fill="#383838">D1</text>
<text x="1100" y="16" font-size="9.6" textLength="14" lengthAdjust="spacingAndGlyphs" font-family="Liberation Sans, sans-serif" fill="#383838">W1</text>
<text x="1126.7" y="16" font-size="9.6" textLength="14.3" lengthAdjust="spacingAndGlyphs" font-family="Liberation Sans, sans-serif" fill="#383838">MN</text>
<line x1="1613" y1="17" x2="1617" y2="13" stroke="#2050c0" stroke-width="2.4"/>
<circle cx="1619.5" cy="9.5" r="3.9" fill="#f4f4ff" stroke="#2a60d0" stroke-width="1.5"/>
<ellipse cx="1643" cy="14.5" rx="6" ry="4.5" fill="#e8e8ee" stroke="#a8a8a8" stroke-width="1"/>
<polygon points="1639,17.5 1642,18.5 1639.5,20.5" fill="#a0a0a0"/>
<circle cx="1650.4" cy="9.5" r="8.2" fill="#e03a20"/>
<text x="1647.3" y="13.8" font-size="11" font-weight="bold" font-family="Liberation Sans, sans-serif" fill="#ffffff">1</text>
</svg>
</body></html>
